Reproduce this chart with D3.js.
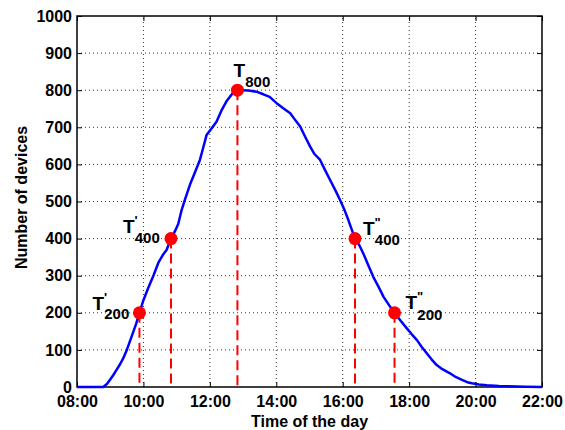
<!DOCTYPE html>
<html>
<head>
<meta charset="utf-8">
<script src="https://cdn.jsdelivr.net/npm/d3@7"></script>
<style>
  body { margin: 0; background: #fff; }
  svg { font-family: "Liberation Sans", Arial, Helvetica, sans-serif; font-weight: bold; }
</style>
</head>
<body>
<section></section>
<script>
// time of day in hours, number of devices
const hours = [8.0, 8.5, 8.79, 8.9, 9.0, 9.1, 9.19, 9.3, 9.39, 9.5, 9.6, 9.7, 9.78, 9.88,
  10.0, 10.15, 10.3, 10.45, 10.6, 10.7, 10.83, 10.95, 11.05, 11.15, 11.25, 11.4, 11.55,
  11.7, 11.8, 11.9, 12.05, 12.2, 12.36, 12.5, 12.6, 12.72, 12.83, 12.95, 13.16, 13.4,
  13.61, 13.8, 14.01, 14.2, 14.42, 14.55, 14.72, 14.85, 15.02, 15.15, 15.32, 15.45, 15.62,
  15.78, 15.92, 16.05, 16.17, 16.27, 16.37, 16.5, 16.62, 16.77, 16.92, 17.08, 17.23, 17.4,
  17.56, 17.75, 17.93, 18.08, 18.23, 18.38, 18.53, 18.68, 18.83, 19.0, 19.23, 19.4, 19.59,
  19.75, 19.89, 20.1, 20.34, 20.7, 21.0, 21.5, 22.0];
const devices = [0, 0, 0, 8, 20, 33, 46, 62, 77, 100, 125, 150, 170, 200,
  234, 268, 300, 335, 358, 370, 400, 420, 440, 477, 505, 545, 578,
  612, 645, 679, 697, 715, 747, 770, 782, 795, 800, 800, 799, 796,
  789, 782, 765, 752, 738, 722, 702, 678, 648, 628, 612, 588, 558,
  530, 504, 478, 450, 425, 400, 382, 360, 328, 297, 270, 243, 220,
  200, 178, 158, 142, 127, 108, 91, 74, 59, 48, 37, 27, 19,
  13, 10, 7, 5, 3, 2, 1, 0];

// marked crossing times
const markHours = [9.88, 10.83, 12.83, 16.37, 17.56];
const markValues = [200, 400, 800, 400, 200];
const markSubs = ["200", "400", "800", "400", "200"];
const markPrimes = ["'", "'", "", "\"", "\""];

const xTicks = [8, 10, 12, 14, 16, 18, 20, 22];
const yTicks = [0, 100, 200, 300, 400, 500, 600, 700, 800, 900, 1000];

const W = 565, H = 430;
const m = { left: 77, right: 23, top: 16, bottom: 43 };

const x = d3.scaleLinear().domain([8, 22]).range([m.left, W - m.right]);
const y = d3.scaleLinear().domain([0, 1000]).range([H - m.bottom, m.top]);
const fmt = d => (d < 10 ? "0" : "") + d + ":00";

const svg = d3.select("section").append("svg").attr("width", W).attr("height", H);

// dotted grid
svg.append("g").selectAll("line").data(xTicks.slice(1, -1)).enter().append("line")
  .attr("x1", d => x(d)).attr("x2", d => x(d))
  .attr("y1", y(0)).attr("y2", y(1000))
  .attr("stroke", "#333").attr("stroke-width", 1).attr("stroke-dasharray", "1,3");
svg.append("g").selectAll("line").data(yTicks.slice(1, -1)).enter().append("line")
  .attr("x1", x(8)).attr("x2", x(22))
  .attr("y1", d => y(d)).attr("y2", d => y(d))
  .attr("stroke", "#333").attr("stroke-width", 1).attr("stroke-dasharray", "1,3");

// axes with inward ticks
const styleAxis = g => {
  g.select(".domain").remove();
  g.selectAll(".tick line").attr("stroke", "#000").attr("stroke-width", 1);
  g.selectAll("text").attr("fill", "#000").style("font-size", "16px")
    .style("font-family", "'Liberation Sans', Arial, sans-serif").style("font-weight", "bold");
};
svg.append("g").attr("transform", `translate(0,${y(0)})`)
  .call(d3.axisBottom(x).tickValues(xTicks).tickFormat(fmt).tickSizeInner(-5).tickSizeOuter(0).tickPadding(9))
  .call(styleAxis);
svg.append("g").attr("transform", `translate(${x(8)},0)`)
  .call(d3.axisLeft(y).tickValues(yTicks).tickFormat(d3.format("d")).tickSizeInner(-5).tickSizeOuter(0).tickPadding(5))
  .call(styleAxis);
svg.append("g").attr("transform", `translate(0,${y(1000)})`)
  .call(d3.axisTop(x).tickValues(xTicks).tickFormat("").tickSizeInner(-5).tickSizeOuter(0))
  .call(styleAxis);
svg.append("g").attr("transform", `translate(${x(22)},0)`)
  .call(d3.axisRight(y).tickValues(yTicks).tickFormat("").tickSizeInner(-5).tickSizeOuter(0))
  .call(styleAxis);

svg.append("rect")
  .attr("x", x(8)).attr("y", y(1000))
  .attr("width", x(22) - x(8)).attr("height", y(0) - y(1000))
  .attr("fill", "none").attr("stroke", "#000").attr("stroke-width", 1.5);

// dashed drop lines
svg.append("g").selectAll("line").data(markHours).enter().append("line")
  .attr("x1", d => x(d)).attr("x2", d => x(d))
  .attr("y1", (d, i) => y(markValues[i])).attr("y2", y(0))
  .attr("stroke", "#ff0000").attr("stroke-width", 2).attr("stroke-dasharray", "10,5");

// the curve
const line = d3.line().x(d => x(d[0])).y(d => y(d[1]));
svg.append("path")
  .datum(hours.map((h, i) => [h, devices[i]]))
  .attr("d", line)
  .attr("fill", "none").attr("stroke", "#0000ff").attr("stroke-width", 2.5)
  .attr("stroke-linejoin", "round");

// markers
svg.append("g").selectAll("circle").data(markHours).enter().append("circle")
  .attr("cx", d => x(d)).attr("cy", (d, i) => y(markValues[i]))
  .attr("r", 6.5).attr("fill", "#ff0000");

// labels: offsets of the T relative to each marker
const labelDx = [-47, -48, -4, 8, 11];
const labelDy = [-3, -6, -13, -4, -4];
const subDy = [9, 10, 10, 10, 11];
markHours.forEach((h, i) => {
  const tx = x(h) + labelDx[i];
  const ty = y(markValues[i]) + labelDy[i];
  const t = svg.append("text").attr("fill", "#000");
  t.append("tspan").attr("x", tx).attr("y", ty).style("font-size", "19px").text("T");
  if (markPrimes[i]) {
    t.append("tspan").attr("x", tx + 11.5).attr("y", ty - 8).style("font-size", "13px").text(markPrimes[i]);
  }
  t.append("tspan").attr("x", tx + 11.8).attr("y", ty + subDy[i]).style("font-size", "15px").text(markSubs[i]);
});

// axis titles
svg.append("text")
  .attr("x", (x(8) + x(22)) / 2).attr("y", 427)
  .attr("text-anchor", "middle").style("font-size", "16px")
  .text("Time of the day");
svg.append("text")
  .attr("transform", `translate(27,${(y(0) + y(1000)) / 2 - 4}) rotate(-90)`)
  .attr("text-anchor", "middle").style("font-size", "16px")
  .text("Number of devices");
</script>
</body>
</html>
